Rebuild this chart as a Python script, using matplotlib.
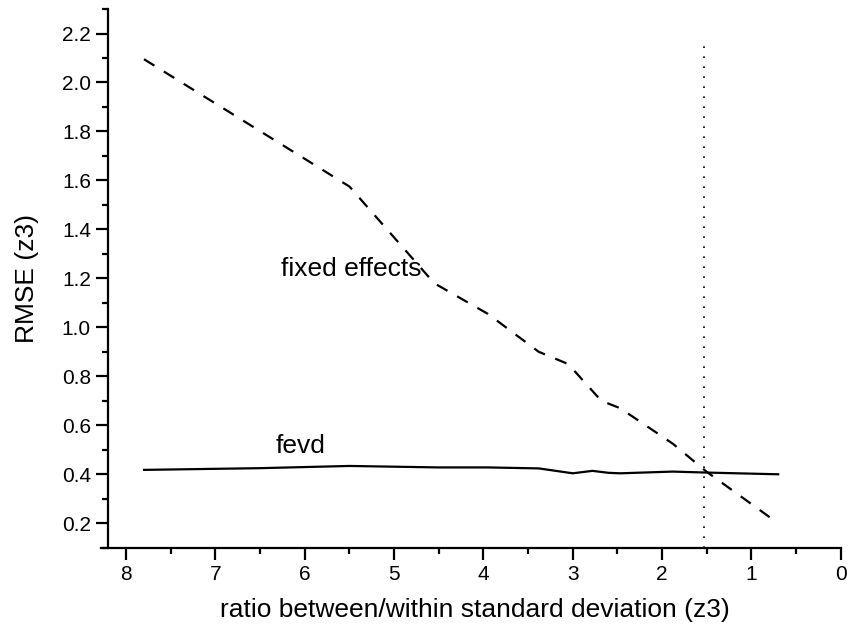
import matplotlib
matplotlib.use("Agg")
import matplotlib.pyplot as plt
from matplotlib.ticker import MultipleLocator

plt.rcParams["font.family"] = ["Liberation Sans", "DejaVu Sans"]

# fixed effects estimator (dashed)
fe_x = [7.8, 5.5, 4.55, 3.95, 3.38, 3.05, 2.68, 2.47, 1.88, 1.5, 0.72]
fe_y = [2.095, 1.575, 1.18, 1.055, 0.90, 0.85, 0.70, 0.67, 0.525, 0.41, 0.205]

# fevd estimator (solid)
fevd_x = [7.8, 6.5, 5.5, 4.5, 3.95, 3.38, 3.0, 2.78, 2.6, 2.47, 1.88, 1.5, 0.7]
fevd_y = [0.418, 0.425, 0.434, 0.428, 0.428, 0.424, 0.404, 0.414, 0.406, 0.404, 0.411, 0.407, 0.40]

cutoff_x = 1.53
cutoff_top = 2.17

fig = plt.figure(figsize=(8.48, 6.26), dpi=100)
ax = fig.add_axes([0.1277, 0.125, 0.8637, 0.8606])

ax.plot(fe_x, fe_y, color="black", lw=1.6, linestyle=(0, (5.5, 5.0)))
ax.plot(fevd_x, fevd_y, color="black", lw=1.6)
ax.plot([cutoff_x, cutoff_x], [0.1, cutoff_top], color="black", lw=1.2,
        linestyle=(0, (1, 5)))

ax.text(6.27, 1.237, "fixed effects", fontsize=19, va="center", ha="left")
ax.text(6.33, 0.515, "fevd", fontsize=19, va="center", ha="left")

ax.set_xlim(8.2, 0)
ax.set_ylim(0.1, 2.3)
ax.xaxis.set_major_locator(MultipleLocator(1))
ax.xaxis.set_minor_locator(MultipleLocator(0.5))
ax.yaxis.set_major_locator(MultipleLocator(0.2))
ax.yaxis.set_minor_locator(MultipleLocator(0.1))
ax.yaxis.set_major_formatter(plt.FormatStrFormatter("%.1f"))

for side in ("top", "right"):
    ax.spines[side].set_visible(False)
for side in ("left", "bottom"):
    ax.spines[side].set_linewidth(1.6)
ax.spines["bottom"].set_bounds(8.28, 0)

ax.tick_params(which="major", direction="out", length=8.5, width=1.6, labelsize=15, pad=4)
ax.tick_params(which="minor", direction="out", length=4.5, width=1.6)

ax.set_xlabel("ratio between/within standard deviation (z3)", fontsize=19, va="center")
ax.set_ylabel("RMSE (z3)", fontsize=19, va="center")
ax.xaxis.set_label_coords(0.5, -0.115)
ax.yaxis.set_label_coords(-0.111, 0.5)

fig.savefig("out.png", dpi=100)
